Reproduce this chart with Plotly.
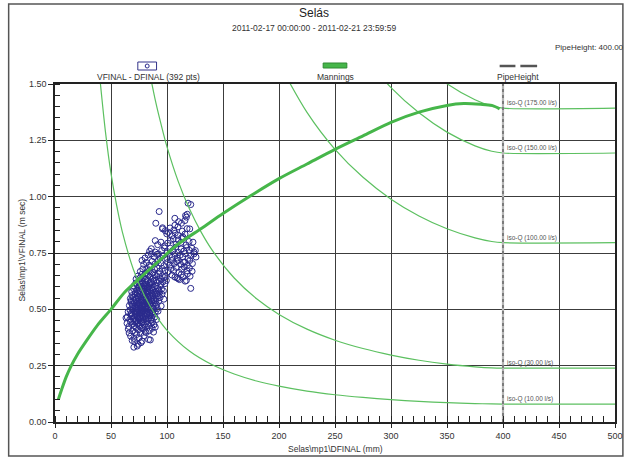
import plotly.graph_objects as go

# ---------------- data ----------------
PIPE_HEIGHT_MM = 400

SCATTER_PTS = [
    (70.4,.332),(73.4,.337),(74.2,.345),(76.8,.352),(71.2,.356),
    (68.9,.362),(77.7,.359),(83.6,.366),(70.5,.371),(75.0,.374),(67.5,.381),(85.1,.364),(79.6,.383),(72.8,.388),
    (66.2,.395),(81.3,.397),(76.4,.392),(88.0,.399),(71.6,.398),(84.2,.405),(65.4,.412),(74.5,.409),(78.9,.414),(69.3,.404),(86.7,.416),(72.3,.418),(80.5,.402),(89.5,.421),
    (66.0,.424),(67.5,.443),(70.8,.428),(73.6,.436),(75.9,.425),(77.4,.441),(79.8,.431),(81.9,.445),(83.5,.427),(85.8,.438),(88.4,.432),(64.3,.438),(72.0,.447),(76.1,.449),(80.6,.422),(82.7,.437),(87.1,.446),(69.4,.435),(74.8,.429),(78.5,.447),
    (63.4,.462),(64.5,.466),(66.8,.455),(68.4,.471),(69.9,.458),(71.5,.476),(72.7,.452),(73.9,.466),(75.2,.479),(76.6,.459),(77.9,.470),(79.3,.453),(80.7,.468),(82.0,.476),(83.4,.457),(84.9,.472),(86.2,.461),(87.6,.478),(89.1,.466),(90.7,.455),(70.6,.465),(74.6,.458),(78.4,.462),(81.2,.458),(85.5,.451),(67.8,.478),
    (65.3,.489),(66.9,.497),(68.2,.484),(69.6,.503),(70.9,.491),(72.1,.508),(73.4,.486),(74.7,.498),(75.9,.483),(77.2,.505),(78.6,.492),(79.8,.481),(81.1,.501),(82.5,.489),(83.8,.507),(85.2,.494),(86.6,.482),(88.1,.499),(89.5,.488),(91.4,.503),(71.5,.482),(76.5,.493),(80.4,.509),(84.6,.484),(73.0,.496),(78.0,.487),(87.3,.506),(92.0,.492),
    (66.4,.517),(67.8,.531),(69.1,.522),(70.3,.538),(71.7,.513),(72.9,.527),(74.2,.536),(75.5,.519),(76.8,.531),(78.1,.514),(79.4,.526),(80.8,.539),(82.1,.518),(83.5,.533),(84.9,.521),(86.3,.537),(87.7,.516),(89.2,.529),(90.8,.521),(92.6,.536),(94.8,.515),(73.6,.512),(77.6,.539),(81.6,.528),(85.6,.512),(88.6,.538),(70.9,.529),(75.0,.527),
    (67.3,.548),(68.7,.561),(70.0,.553),(71.4,.567),(72.6,.544),(73.9,.558),(75.3,.569),(76.6,.549),(77.9,.562),(79.2,.543),(80.6,.556),(82.0,.568),(83.3,.551),(84.7,.563),(86.1,.546),(87.5,.559),(89.0,.566),(90.4,.548),(92.1,.561),(93.8,.552),(95.5,.567),(97.2,.545),(74.5,.552),(78.6,.567),(81.4,.546),(85.2,.557),(88.3,.544),(91.2,.568),
    (68.5,.578),(70.2,.591),(71.8,.574),(73.1,.586),(74.6,.597),(76.0,.579),(77.4,.592),(78.8,.573),(80.1,.588),(81.5,.596),(82.9,.577),(84.3,.590),(85.8,.572),(87.2,.585),(88.7,.598),(90.2,.581),(91.8,.593),(93.5,.576),(95.1,.589),(96.8,.582),(75.3,.585),(79.5,.579),(83.6,.599),(86.5,.594),(89.4,.575),(121.2,.593),
    (70.5,.604),(72.2,.617),(73.7,.608),(75.2,.623),(76.7,.611),(78.1,.626),(79.6,.603),(81.0,.619),(82.4,.628),(83.9,.606),(85.3,.621),(86.8,.612),(88.2,.627),(89.7,.605),(91.3,.618),(92.9,.625),(94.6,.609),(96.3,.622),(98.1,.614),(99.4,.628),(77.4,.602),(84.6,.614),(90.4,.629),(80.3,.611),(116.2,.625),(117.3,.628),(111.2,.632),
    (72.4,.634),(74.1,.648),(75.8,.639),(77.3,.655),(78.9,.642),(80.4,.658),(81.8,.636),(83.3,.651),(84.8,.644),(86.3,.659),(87.7,.638),(89.2,.652),(90.8,.645),(92.4,.657),(94.1,.637),(95.8,.649),(97.5,.641),(98.6,.647),
    (107.1,.643),(108.9,.640),(110.0,.636),(114.4,.643),(120.6,.647),(112.6,.654),(104.5,.652),(118.3,.658),
    (76.2,.668),(78.4,.679),(80.7,.659),(82.1,.681),(84.0,.671),(85.1,.689),(87.3,.664),(89.0,.677),(91.2,.684),(93.5,.669),(95.8,.681),(98.0,.673),
    (101.2,.667),(103.6,.681),(105.9,.672),(108.3,.686),(110.7,.664),(113.0,.678),(115.4,.688),(117.8,.671),(122.4,.669),(120.0,.683),
    (77.7,.717),(79.2,.699),(81.5,.708),(84.2,.696),(86.8,.713),(89.4,.702),(92.0,.716),(94.6,.705),(97.3,.694),
    (100.5,.708),(102.8,.697),(104.1,.717),(106.4,.703),(108.7,.712),(110.0,.717),(112.3,.699),(114.6,.709),(115.9,.709),(118.2,.695),(120.3,.717),(122.7,.703),
    (80.4,.728),(83.2,.741),(86.0,.746),(88.6,.733),(91.1,.744),(93.8,.729),(96.5,.738),
    (99.8,.726),(102.1,.739),(104.6,.731),(107.0,.745),(109.3,.728),(111.7,.740),(114.1,.733),(116.4,.747),(118.8,.726),(121.1,.738),(124.1,.746),(125.9,.732),
    (86.0,.769),(89.5,.754),(92.4,.746),(95.3,.761),(84.5,.758),(97.8,.772),
    (100.4,.756),(102.9,.771),(105.3,.762),(107.8,.776),(110.2,.753),(112.6,.768),(115.1,.759),(117.5,.774),(119.9,.762),(122.3,.771),(125.3,.761),(124.1,.754),
    (89.5,.805),(91.7,.787),(94.6,.798),(97.9,.782),
    (100.6,.794),(103.0,.806),(105.6,.813),(108.1,.789),(110.0,.808),(112.5,.797),(114.4,.820),(117.0,.786),(119.7,.801),(123.2,.798),
    (99.8,.835),(101.2,.842),(104.4,.826),(107.3,.838),(110.0,.828),(113.2,.818),(116.1,.834),(120.3,.857),
    (96.0,.857),(98.5,.849),(102.7,.861),(106.1,.852),(109.8,.866),(113.6,.847),(117.9,.858),
    (90.0,.882),(96.0,.862),(107.0,.873),(112.9,.882),(116.0,.894),(110.4,.889),
    (93.0,.934),(107.0,.904),(116.5,.916),(117.3,.909),(118.1,.922),
    (118.8,.971),(121.2,.965),
    (71.0,.445),(73.2,.471),(75.6,.463),(77.0,.484),(79.1,.497),(81.7,.482),(83.9,.474),(72.5,.503),(74.0,.521),(76.2,.507),(78.3,.524),(80.0,.516),(82.8,.502),(84.1,.541),(71.9,.545),(73.5,.574),(76.9,.541),(79.0,.553),(81.2,.573),(83.0,.584),(85.0,.526),(86.9,.571),(75.7,.604),(78.0,.615),(80.9,.633),(82.6,.594),(74.3,.440),(77.6,.417),(69.2,.514),(68.0,.539),(87.0,.487),(90.0,.536),(92.7,.582),
]
SCATTER_DEPTH = [p[0] for p in SCATTER_PTS]
SCATTER_VEL = [p[1] for p in SCATTER_PTS]

MANNING_DEPTH = [3, 6, 10, 14, 20, 28, 38, 50, 62, 75, 94, 110, 131, 150, 175, 200, 225, 250, 275, 300, 325, 350, 365, 380, 390, 397]
MANNING_VEL = [0.10, 0.145, 0.20, 0.245, 0.30, 0.36, 0.43, 0.50, 0.575, 0.635, 0.72, 0.79, 0.86, 0.925, 1.005, 1.08, 1.145, 1.21, 1.27, 1.33, 1.375, 1.405, 1.413, 1.41, 1.405, 1.39]

ISOQ10_D = [40, 45, 50, 55, 60, 70, 80, 90, 100, 120, 140, 160, 180, 200, 225, 250, 275, 300, 325, 350, 375, 390, 400, 500]
ISOQ10_V = [1.529, 1.290, 1.103, 0.962, 0.846, 0.677, 0.559, 0.473, 0.407, 0.315, 0.255, 0.213, 0.182, 0.159, 0.137, 0.121, 0.109, 0.099, 0.0914, 0.0858, 0.0817, 0.0801, 0.0796, 0.0796]
ISOQ30_D = [85, 90, 95, 100, 110, 120, 130, 140, 160, 180, 200, 225, 250, 275, 300, 325, 350, 375, 390, 400, 500]
ISOQ30_V = [1.538, 1.418, 1.315, 1.221, 1.068, 0.946, 0.847, 0.765, 0.639, 0.547, 0.4775, 0.412, 0.363, 0.326, 0.297, 0.274, 0.257, 0.245, 0.240, 0.2387, 0.2387]
ISOQ100_D = [200, 225, 250, 275, 300, 325, 350, 375, 390, 400, 500]
ISOQ100_V = [1.592, 1.374, 1.210, 1.086, 0.989, 0.9145, 0.8576, 0.817, 0.801, 0.7958, 0.7958]
ISOQ150_D = [275, 300, 325, 350, 375, 390, 400, 500]
ISOQ150_V = [1.628, 1.484, 1.372, 1.2865, 1.2255, 1.2015, 1.1937, 1.1937]
ISOQ175_D = [325, 350, 375, 390, 400, 500]
ISOQ175_V = [1.600, 1.501, 1.430, 1.402, 1.3926, 1.3926]

ISOQ_LABELS = ["iso-Q (10.00 l/s)", "iso-Q (30.00 l/s)", "iso-Q (100.00 l/s)",
               "iso-Q (150.00 l/s)", "iso-Q (175.00 l/s)"]

X_TICKS = [0, 50, 100, 150, 200, 250, 300, 350, 400, 450, 500]
Y_TICKS = [0.0, 0.25, 0.5, 0.75, 1.0, 1.25, 1.5]

TITLE = "Selás"
SUBTITLE = "2011-02-17 00:00:00 - 2011-02-21 23:59:59"

# ---------------- figure ----------------
W, H = 635, 459
L, R, T, B = 55, 623, 84, 422
FONT = "Liberation Sans, Arial, sans-serif"
GREEN = "#46b64a"
ISO_GREEN = "#5cc060"
NAVY = "#2a2a8c"


def px(xp):
    return (xp - L) / (R - L)


def py(yp):
    return (B - yp) / (B - T)


fig = go.Figure()

fig.add_trace(go.Scatter(
    x=SCATTER_DEPTH, y=SCATTER_VEL, mode="markers",
    marker=dict(symbol="circle-open", size=6, color=NAVY, line=dict(width=1.0)),
    showlegend=False, cliponaxis=True))

for xs, ys in [(ISOQ10_D, ISOQ10_V), (ISOQ30_D, ISOQ30_V), (ISOQ100_D, ISOQ100_V),
               (ISOQ150_D, ISOQ150_V), (ISOQ175_D, ISOQ175_V)]:
    fig.add_trace(go.Scatter(x=xs, y=ys, mode="lines",
                             line=dict(color=ISO_GREEN, width=1.2, shape="spline", smoothing=0.8),
                             showlegend=False))

# pipe height marker line (grey, textured)
fig.add_trace(go.Scatter(x=[PIPE_HEIGHT_MM, PIPE_HEIGHT_MM], y=[0, 1.5], mode="lines",
                         line=dict(color="#b4b4b4", width=2.2), showlegend=False))
fig.add_trace(go.Scatter(x=[PIPE_HEIGHT_MM, PIPE_HEIGHT_MM], y=[0, 1.5], mode="lines",
                         line=dict(color="#6e6e6e", width=1.6, dash="dot"), showlegend=False))

fig.add_trace(go.Scatter(x=MANNING_DEPTH, y=MANNING_VEL, mode="lines",
                         line=dict(color=GREEN, width=3, shape="spline", smoothing=0.8),
                         showlegend=False))

annotations = []
for lab, ys in zip(ISOQ_LABELS, [ISOQ10_V, ISOQ30_V, ISOQ100_V, ISOQ150_V, ISOQ175_V]):
    annotations.append(dict(x=402, y=ys[-1], xref="x", yref="y", text=lab, showarrow=False,
                            xanchor="left", yanchor="bottom", yshift=-1,
                            font=dict(family=FONT, size=6.5, color="#555555")))

def txt(text, xp, yp, size, xanchor="center", color="#333333", angle=0):
    annotations.append(dict(x=px(xp), y=py(yp), xref="paper", yref="paper", text=text,
                            showarrow=False, xanchor=xanchor, yanchor="middle", textangle=angle,
                            font=dict(family=FONT, size=size, color=color)))

txt(TITLE, 318, 13, 12, color="#222222")
txt(SUBTITLE, 318, 28, 8.5)
txt("PipeHeight: 400.00", 634, 48, 8, xanchor="right")
txt("VFINAL - DFINAL (392 pts)", 150, 77, 8.5)
txt("Mannings", 339, 77, 8.5)
txt("PipeHeight", 525, 77, 8.5)
txt("Selas\\mp1\\DFINAL (mm)", 339, 449, 8.5)
txt("Selas\\mp1\\VFINAL (m sec)", 22, 250, 8.5, angle=-90)

shapes = [
    dict(type="rect", xref="paper", yref="paper", x0=px(8), x1=px(631), y0=py(456), y1=py(4),
         line=dict(color="#555555", width=1.5), layer="below"),
    dict(type="rect", xref="paper", yref="paper", x0=px(139), x1=px(158), y0=py(70), y1=py(62),
         line=dict(color="#33338a", width=1)),
    dict(type="circle", xref="paper", yref="paper", x0=px(146.5), x1=px(150.5), y0=py(68), y1=py(64),
         line=dict(color=NAVY, width=1)),
    dict(type="rect", xref="paper", yref="paper", x0=px(327), x1=px(351), y0=py(68), y1=py(63),
         line=dict(color="#2e8a32", width=1), fillcolor=GREEN),
    dict(type="line", xref="paper", yref="paper", x0=px(506), x1=px(522), y0=py(66), y1=py(66),
         line=dict(color="#555555", width=2.5)),
    dict(type="line", xref="paper", yref="paper", x0=px(527), x1=px(544), y0=py(66), y1=py(66),
         line=dict(color="#555555", width=2.5)),
]

fig.update_layout(
    width=W, height=H,
    margin=dict(l=L, r=W - R, t=T, b=H - B, pad=0),
    paper_bgcolor="white", plot_bgcolor="white",
    font=dict(family=FONT, size=9, color="#333333"),
    annotations=annotations, shapes=shapes, showlegend=False,
    xaxis=dict(range=[0, 500], tickvals=X_TICKS, ticks="outside", ticklen=4, tickcolor="#222",
               showgrid=True, gridcolor="#3c3c3c", gridwidth=1.3, zeroline=False,
               showline=True, linecolor="#222", linewidth=1.5, mirror=True,
               tickfont=dict(size=9, color="#333"),
               minor=dict(dtick=10, ticks="inside", ticklen=6, tickcolor="#222", showgrid=False)),
    yaxis=dict(range=[0, 1.5], tickvals=Y_TICKS, tickformat=".2f", ticks="outside", ticklen=5,
               tickcolor="#222", showgrid=True, gridcolor="#3c3c3c", gridwidth=1.3, zeroline=False,
               showline=True, linecolor="#222", linewidth=1.5, mirror=True,
               tickfont=dict(size=9, color="#333"),
               minor=dict(dtick=0.05, ticks="inside", ticklen=5, tickcolor="#222", showgrid=False)),
)

fig.write_html("out.html", config={"displayModeBar": False},
               post_script="document.body.style.margin='0';document.body.style.overflow='hidden';")
